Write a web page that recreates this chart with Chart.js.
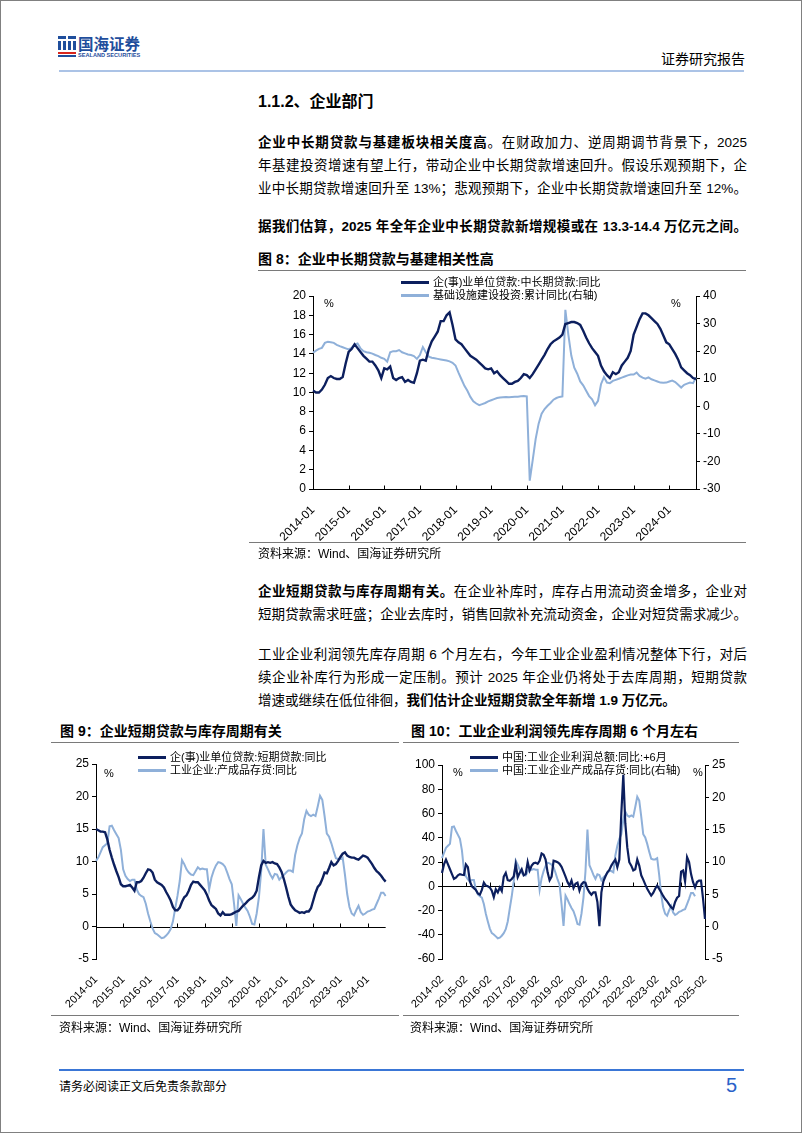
<!DOCTYPE html>
<html>
<head>
<meta charset="utf-8">
<script src="https://cdn.jsdelivr.net/npm/chart.js@4.4.1/dist/chart.umd.min.js"></script>
<style>
  body { margin: 0; background: #fff; }
  #page { position: relative; width: 800px; height: 1131px; border: 1px solid #808080; overflow: hidden;
          font-family: "Liberation Sans", "Noto Sans CJK SC", sans-serif; color: #000; }
  .abs { position: absolute; }
  .txt { position: absolute; left: 257px; width: 489px; font-size: 13.5px; line-height: 20px; }
  .just { text-align: justify; text-align-last: justify; }
  .ttl { position: absolute; font-size: 14px; font-weight: bold; line-height: 20px; white-space: nowrap; }
  .src { position: absolute; font-size: 12px; line-height: 16px; white-space: nowrap; }
  .rule { position: absolute; height: 1px; background: #7a7a7a; }
  .legend { position: absolute; font-size: 11px; line-height: 13px; white-space: nowrap; }
  .legend div { height: 13px; }
  .legend span.sw { display: inline-block; width: 28px; height: 3px; vertical-align: middle; margin-right: 4px; position: relative; top: -1px; }
  canvas { position: absolute; }
</style>
</head>
<body>
<div id="page">
  <!-- header -->
  <svg class="abs" style="left:57px;top:35px" width="18" height="21">
    <rect x="0" y="0" width="8" height="3" fill="#1f4e9c"/>
    <rect x="10" y="0" width="8" height="3" fill="#1f4e9c"/>
    <rect x="0" y="5" width="3" height="9" fill="#1f4e9c"/>
    <rect x="5" y="5" width="3" height="9" fill="#1f4e9c"/>
    <rect x="10" y="5" width="3" height="9" fill="#1f4e9c"/>
    <rect x="15" y="5" width="3" height="9" fill="#1f4e9c"/>
    <rect x="0" y="16" width="18" height="2" fill="#d9261c"/>
    <rect x="0" y="19" width="18" height="2" fill="#1f4e9c"/>
  </svg>
  <div class="abs" style="left:77px;top:33px;font-size:15.5px;font-weight:bold;color:#1f4e9c;line-height:18px;font-family:'Noto Sans CJK SC'">国海证券</div>
  <div class="abs" style="left:77px;top:51px;font-size:5.6px;font-weight:bold;color:#1f4e9c;line-height:6px">SEALAND SECURITIES</div>
  <div class="abs" style="left:660px;top:48px;font-size:14px;line-height:18px;font-family:'Noto Sans CJK SC'">证券研究报告</div>
  <div class="abs" style="left:58px;top:69px;width:685px;height:2px;background:#abc3e6"></div>

  <div class="abs" style="left:257px;top:91px;font-size:16px;font-weight:bold;line-height:20px">1.1.2、企业部门</div>

  <div class="txt just" style="top:132px"><b>企业中长期贷款与基建板块相关度高</b>。在财政加力、逆周期调节背景下，2025</div>
  <div class="txt just" style="top:155px">年基建投资增速有望上行，带动企业中长期贷款增速回升。假设乐观预期下，企</div>
  <div class="txt just" style="top:178px">业中长期贷款增速回升至 13%；悲观预期下，企业中长期贷款增速回升至 12%。</div>
  <div class="txt just" style="top:216px"><b>据我们估算，2025 年全年企业中长期贷款新增规模或在 13.3-14.4 万亿元之间。</b></div>

  <div class="ttl" style="left:257px;top:248px">图 8：企业中长期贷款与基建相关性高</div>
  <div class="rule" style="left:257px;top:269px;width:488px"></div>
  <canvas id="c8" width="490" height="275" style="left:240px;top:270px"></canvas>
  <div class="legend" id="lg8" style="left:400px;top:275px"></div>
  <div class="rule" style="left:248px;top:541px;width:497px"></div>
  <div class="src" style="left:257px;top:545px">资料来源：Wind、国海证券研究所</div>

  <div class="txt just" style="top:581px"><b>企业短期贷款与库存周期有关。</b>在企业补库时，库存占用流动资金增多，企业对</div>
  <div class="txt just" style="top:604px">短期贷款需求旺盛；企业去库时，销售回款补充流动资金，企业对短贷需求减少。</div>
  <div class="txt just" style="top:644px">工业企业利润领先库存周期 6 个月左右，今年工业企业盈利情况整体下行，对后</div>
  <div class="txt just" style="top:667px">续企业补库行为形成一定压制。预计 2025 年企业仍将处于去库周期，短期贷款</div>
  <div class="txt" style="top:690px">增速或继续在低位徘徊，<b>我们估计企业短期贷款全年新增 1.9 万亿元。</b></div>

  <div class="ttl" style="left:59px;top:720px">图 9：企业短期贷款与库存周期有关</div>
  <div class="rule" style="left:50px;top:741px;width:348px"></div>
  <canvas id="c9" width="360" height="280" style="left:40px;top:740px"></canvas>
  <div class="legend" id="lg9" style="left:137px;top:750px"></div>
  <div class="rule" style="left:50px;top:1014px;width:348px"></div>
  <div class="src" style="left:58px;top:1019px">资料来源：Wind、国海证券研究所</div>

  <div class="ttl" style="left:410px;top:720px">图 10：工业企业利润领先库存周期 6 个月左右</div>
  <div class="rule" style="left:402px;top:741px;width:336px"></div>
  <canvas id="c10" width="350" height="280" style="left:400px;top:740px"></canvas>
  <div class="legend" id="lg10" style="left:469px;top:750px"></div>
  <div class="rule" style="left:402px;top:1014px;width:336px"></div>
  <div class="src" style="left:409px;top:1019px">资料来源：Wind、国海证券研究所</div>

  <!-- footer -->
  <div class="abs" style="left:58px;top:1068px;width:685px;height:2px;background:#3a76d6"></div>
  <div class="abs" style="left:58px;top:1077px;font-size:12px;line-height:16px;font-family:'Noto Sans CJK SC'">请务必阅读正文后免责条款部分</div>
  <div class="abs" style="left:725px;top:1072px;font-size:20px;line-height:24px;color:#2a62c9">5</div>
</div>

<script>
// ---- data ----
// 图8: 2014-01 .. 2024-10
const mltLoan = [
  10.2,10.0,10.0,10.3,10.8,11.5,11.7,11.5,11.4,11.4,11.6,13.0,
  14.2,14.5,15.0,14.6,14.2,13.8,13.5,13.2,13.2,12.8,12.3,11.5,
  12.5,12.4,12.7,11.5,11.3,11.5,11.6,11.1,11.3,11.1,11.0,12.0,
  13.3,13.4,13.3,14.5,15.3,15.8,16.3,17.4,17.4,18.0,18.3,17.0,
  15.5,15.2,15.0,14.6,14.2,13.8,13.6,13.4,13.1,12.8,12.5,12.4,
  12.5,12.0,12.2,11.8,11.5,11.2,10.9,10.9,11.1,11.2,11.5,11.9,
  11.8,11.5,11.9,12.4,12.9,13.4,13.9,14.5,15.0,15.3,15.5,15.7,
  16.0,17.1,17.2,17.3,17.3,17.2,17.0,16.4,15.7,15.1,14.6,14.2,
  13.8,12.8,12.2,11.8,11.5,12.1,11.9,12.1,12.8,13.2,13.6,14.3,
  16.0,16.8,17.6,18.2,18.2,18.0,17.7,17.4,17.1,16.6,15.9,15.2,
  15.0,14.5,14.0,13.4,12.6,12.3,12.0,11.8,11.5,11.4
];
const infraInv = [
  19.4,20.2,20.8,21.2,23.0,23.4,23.2,23.0,22.3,21.8,21.4,21.0,
  20.6,21.2,22.4,22.8,21.0,20.0,19.6,19.4,19.1,18.6,18.2,17.6,
  17.2,16.2,19.6,20.0,20.0,20.4,19.6,19.2,18.8,18.6,18.2,17.2,
  18.6,21.5,19.6,18.0,17.6,17.4,17.2,17.0,16.8,16.6,16.3,15.8,
  14.8,12.2,9.8,7.4,5.6,3.4,1.8,1.0,0.4,0.8,1.2,1.8,
  2.2,2.6,3.0,3.2,3.3,3.4,3.3,3.4,3.5,3.5,3.6,3.7,
  3.6,-27.0,-19.5,-11.8,-6.3,-2.7,-1.0,0.2,1.2,2.4,3.0,3.4,
  3.6,35.0,26.0,18.4,14.0,11.8,9.0,7.6,5.6,3.7,2.5,0.4,
  2.0,8.0,10.6,8.6,8.4,9.2,9.6,10.0,10.4,10.8,11.2,11.5,
  11.5,12.2,11.0,10.4,10.0,10.5,9.8,9.4,9.0,8.6,8.5,8.6,
  9.0,9.3,8.8,7.8,6.8,7.8,8.2,8.6,8.4,10.4
];
// 图9: 2014-01 .. 2024-09
const stLoan = [
  15.0,14.8,14.6,14.6,14.5,13.4,11.8,10.6,9.5,8.5,7.6,6.5,
  6.2,6.2,6.3,6.4,6.0,5.5,6.8,6.8,7.0,7.5,8.2,8.8,
  8.7,8.3,7.2,6.8,6.6,6.4,6.0,5.3,4.7,4.0,3.0,2.5,
  2.5,2.9,3.8,4.5,4.8,5.5,6.4,6.9,6.8,6.8,6.4,6.0,
  5.6,4.9,4.0,3.3,3.0,2.7,2.0,1.7,2.2,1.8,1.8,1.8,
  1.9,2.1,2.3,2.4,2.8,3.2,3.5,3.9,4.2,4.4,4.8,5.5,
  7.6,9.4,10.1,9.8,9.9,9.8,9.9,9.7,9.6,9.1,8.4,7.3,
  6.0,4.6,3.4,2.9,2.5,2.3,2.1,2.2,2.1,2.3,2.3,2.8,
  4.0,5.2,6.1,6.5,7.3,8.3,8.2,9.0,9.9,9.4,9.6,10.1,
  10.7,11.2,11.4,10.9,10.7,10.6,10.6,10.4,10.3,10.6,10.9,10.8,
  10.6,10.1,9.6,9.0,8.5,8.2,7.8,7.3,6.9
];
const inventory = [
  10.1,10.6,11.4,12.2,12.5,12.8,15.4,15.5,14.8,14.2,13.6,11.8,
  8.8,7.8,7.3,7.0,7.2,7.2,5.7,5.0,4.7,4.5,3.5,2.0,
  0.8,-0.3,-1.0,-1.2,-1.5,-1.8,-1.7,-1.4,-1.0,-0.4,0.8,2.8,
  4.7,7.0,10.2,9.6,8.8,8.3,8.0,7.9,8.5,9.1,8.8,8.9,
  8.8,8.8,5.7,7.5,8.6,9.4,9.9,9.8,9.6,9.2,8.3,7.3,
  6.5,3.5,0.1,4.8,4.2,3.5,2.9,2.4,1.5,0.4,0.3,2.0,
  4.5,8.5,15.0,9.5,8.8,8.0,7.4,8.1,8.0,7.2,7.6,7.9,
  8.3,8.6,8.6,8.4,11.0,12.5,13.6,14.3,16.5,17.8,17.2,17.0,
  17.2,17.0,18.5,20.1,19.5,17.0,14.3,13.8,12.8,11.6,10.5,10.4,
  10.4,10.6,8.0,5.0,3.0,2.0,1.7,2.5,3.2,2.2,1.8,2.0,
  2.3,2.4,2.6,2.7,3.5,4.3,5.2,5.2,4.7
];
// 图10: 2014-02 .. 2025-02 (profits shifted +6 months)
const profitLead = [
  11,18,22,18,14,10,6,7,9,10,9.5,9.3,
  18,15.7,4,0,-1.5,-3,-6,-7,-3,3,0.5,0,
  -1,-3.6,-9,-2.5,-5,-1,-4,8,11,5,4.5,6,
  8,18,7.4,11,14,9,10,20,13,17,19,19.5,
  18.5,21,27,26,22,11.5,5,8,21,20.5,19.8,18.5,
  16,12,8,3.5,0.5,4.7,-1.5,2,3,-3.6,1.5,3.3,
  3,-2.2,-5,-7,-5,-5,-13,-33,-5,4,8,11.5,
  13.5,17,19.8,22,15.7,22,60,92,52,32,19.8,17,
  13,14,22,17,9,5.5,1.5,-2,-5,-7.7,-5.5,-2,
  0.5,-2.2,-5,-8,-10.5,-12.5,-15,-17.3,-18.7,-13,-9.5,-8,
  12,13,4,24,20,10,3.3,-1,3.5,4.7,4.7,-10,-27
];
const inventory10 = inventory.slice(1);   // same series, axis starts 2014-02

const names8 = ['企(事)业单位贷款:中长期贷款:同比', '基础设施建设投资:累计同比(右轴)'];
const names9 = ['企(事)业单位贷款:短期贷款:同比', '工业企业:产成品存货:同比'];
const names10 = ['中国:工业企业利润总额:同比:+6月', '中国:工业企业产成品存货:同比(右轴)'];

const DARK = '#0c1f5e', LIGHT = '#8fb0d9';

function monthLabels(year, month, count) {
  const out = [];
  for (let i = 0; i < count; i++) {
    const y = year + Math.floor((month - 1 + i) / 12);
    const m = (month - 1 + i) % 12 + 1;
    out.push(y + '-' + String(m).padStart(2, '0'));
  }
  return out;
}

// zero / bottom axis line with small year ticks, plus "%" unit labels
const decor = {
  id: 'decor',
  beforeDatasetsDraw(chart, args, o) {
    const { ctx, chartArea: a, scales } = chart;
    const y0 = Math.round(o.zeroOn ? scales[o.zeroOn].getPixelForValue(0) : a.bottom) + 0.5;
    ctx.save();
    ctx.strokeStyle = '#000';
    ctx.lineWidth = 1;
    ctx.beginPath();
    ctx.moveTo(a.left, y0);
    ctx.lineTo(a.right, y0);
    const x = scales.x;
    for (let i = 0; i < x.ticks.length; i += 12) {
      const px = Math.round(x.getPixelForTick(i)) + 0.5;
      ctx.moveTo(px, y0);
      ctx.lineTo(px, y0 - 4);
    }
    ctx.stroke();
    ctx.fillStyle = '#000';
    ctx.font = '11px "Liberation Sans"';
    ctx.textBaseline = 'top';
    (o.units || []).forEach(u => {
      const px = u.side === 'left' ? a.left + u.dx : a.right - u.dx;
      ctx.fillText('%', px, a.top + u.dy);
    });
    ctx.restore();
  }
};

function yAxis(pos, min, max, step, width, show) {
  return {
    position: pos, min: min, max: max, display: show !== false,
    afterFit(s) { s.width = width; },
    ticks: { stepSize: step, color: '#000', font: { size: 12, family: 'Liberation Sans' }, padding: 3 },
    grid: { drawOnChartArea: false, drawTicks: true, tickLength: 4, color: '#000' },
    border: { display: true, color: '#000', width: 1 }
  };
}

function xAxis(height, fontSize) {
  return {
    type: 'category',
    afterFit(s) { s.height = height; },
    grid: { display: false },
    border: { display: false },
    ticks: {
      autoSkip: false, minRotation: 45, maxRotation: 45, padding: 6,
      color: '#000', font: { size: fontSize, family: 'Liberation Sans' },
      callback(v, i) { return i % 12 === 0 ? this.getLabelForValue(v) : ''; }
    }
  };
}

function line(label, data, color, width, axis) {
  return { label, data, borderColor: color, borderWidth: width, pointRadius: 0,
           tension: 0, fill: false, yAxisID: axis };
}

function legend(id, labels, colors) {
  const el = document.getElementById(id);
  labels.forEach((t, i) => {
    const row = document.createElement('div');
    const sw = document.createElement('span');
    sw.className = 'sw';
    sw.style.background = colors[i];
    row.appendChild(sw);
    row.appendChild(document.createTextNode(t));
    el.appendChild(row);
  });
}

function baseOptions(top, scales, decorOpts) {
  return {
    responsive: false, animation: false, devicePixelRatio: 1,
    layout: { padding: { top: top, left: 0, right: 0, bottom: 0 } },
    plugins: { legend: { display: false }, tooltip: { enabled: false }, decor: decorOpts },
    scales: scales
  };
}

// ---- 图8 ----
new Chart(document.getElementById('c8'), {
  type: 'line',
  data: {
    labels: monthLabels(2014, 1, mltLoan.length),
    datasets: [
      line(names8[0], mltLoan, DARK, 2.4, 'y'),
      line(names8[1], infraInv, LIGHT, 2, 'y1')
    ]
  },
  options: baseOptions(25, {
    x: xAxis(57, 12),
    y: yAxis('left', 0, 20, 2, 72),
    y1: yAxis('right', -30, 40, 10, 35)
  }, { units: [{ side: 'left', dx: 11, dy: 2 }, { side: 'right', dx: 25, dy: 2 }] }),
  plugins: [decor]
});
legend('lg8', names8, [DARK, LIGHT]);

// ---- 图9 ----
new Chart(document.getElementById('c9'), {
  type: 'line',
  data: {
    labels: monthLabels(2014, 1, stLoan.length),
    datasets: [
      line(names9[0], stLoan, DARK, 2.4, 'y'),
      line(names9[1], inventory, LIGHT, 2, 'y')
    ]
  },
  options: Object.assign(baseOptions(23, {
    x: xAxis(62, 11),
    y: yAxis('left', -5, 25, 5, 55)
  }, { zeroOn: 'y', units: [{ side: 'left', dx: 8, dy: 4 }] }), {}),
  plugins: [decor]
});
document.getElementById('c9').getContext('2d');
legend('lg9', names9, [DARK, LIGHT]);

// ---- 图10 ----
new Chart(document.getElementById('c10'), {
  type: 'line',
  data: {
    labels: monthLabels(2014, 2, profitLead.length),
    datasets: [
      line(names10[0], profitLead, DARK, 2.2, 'y'),
      line(names10[1], inventory10, LIGHT, 2, 'y1')
    ]
  },
  options: baseOptions(24, {
    x: xAxis(62, 11),
    y: yAxis('left', -60, 100, 20, 41),
    y1: yAxis('right', -5, 25, 5, 46)
  }, { zeroOn: 'y', units: [{ side: 'left', dx: 11, dy: 2 }, { side: 'right', dx: 12, dy: 2 }] }),
  plugins: [decor]
});
legend('lg10', names10, [DARK, LIGHT]);
</script>
</body>
</html>
